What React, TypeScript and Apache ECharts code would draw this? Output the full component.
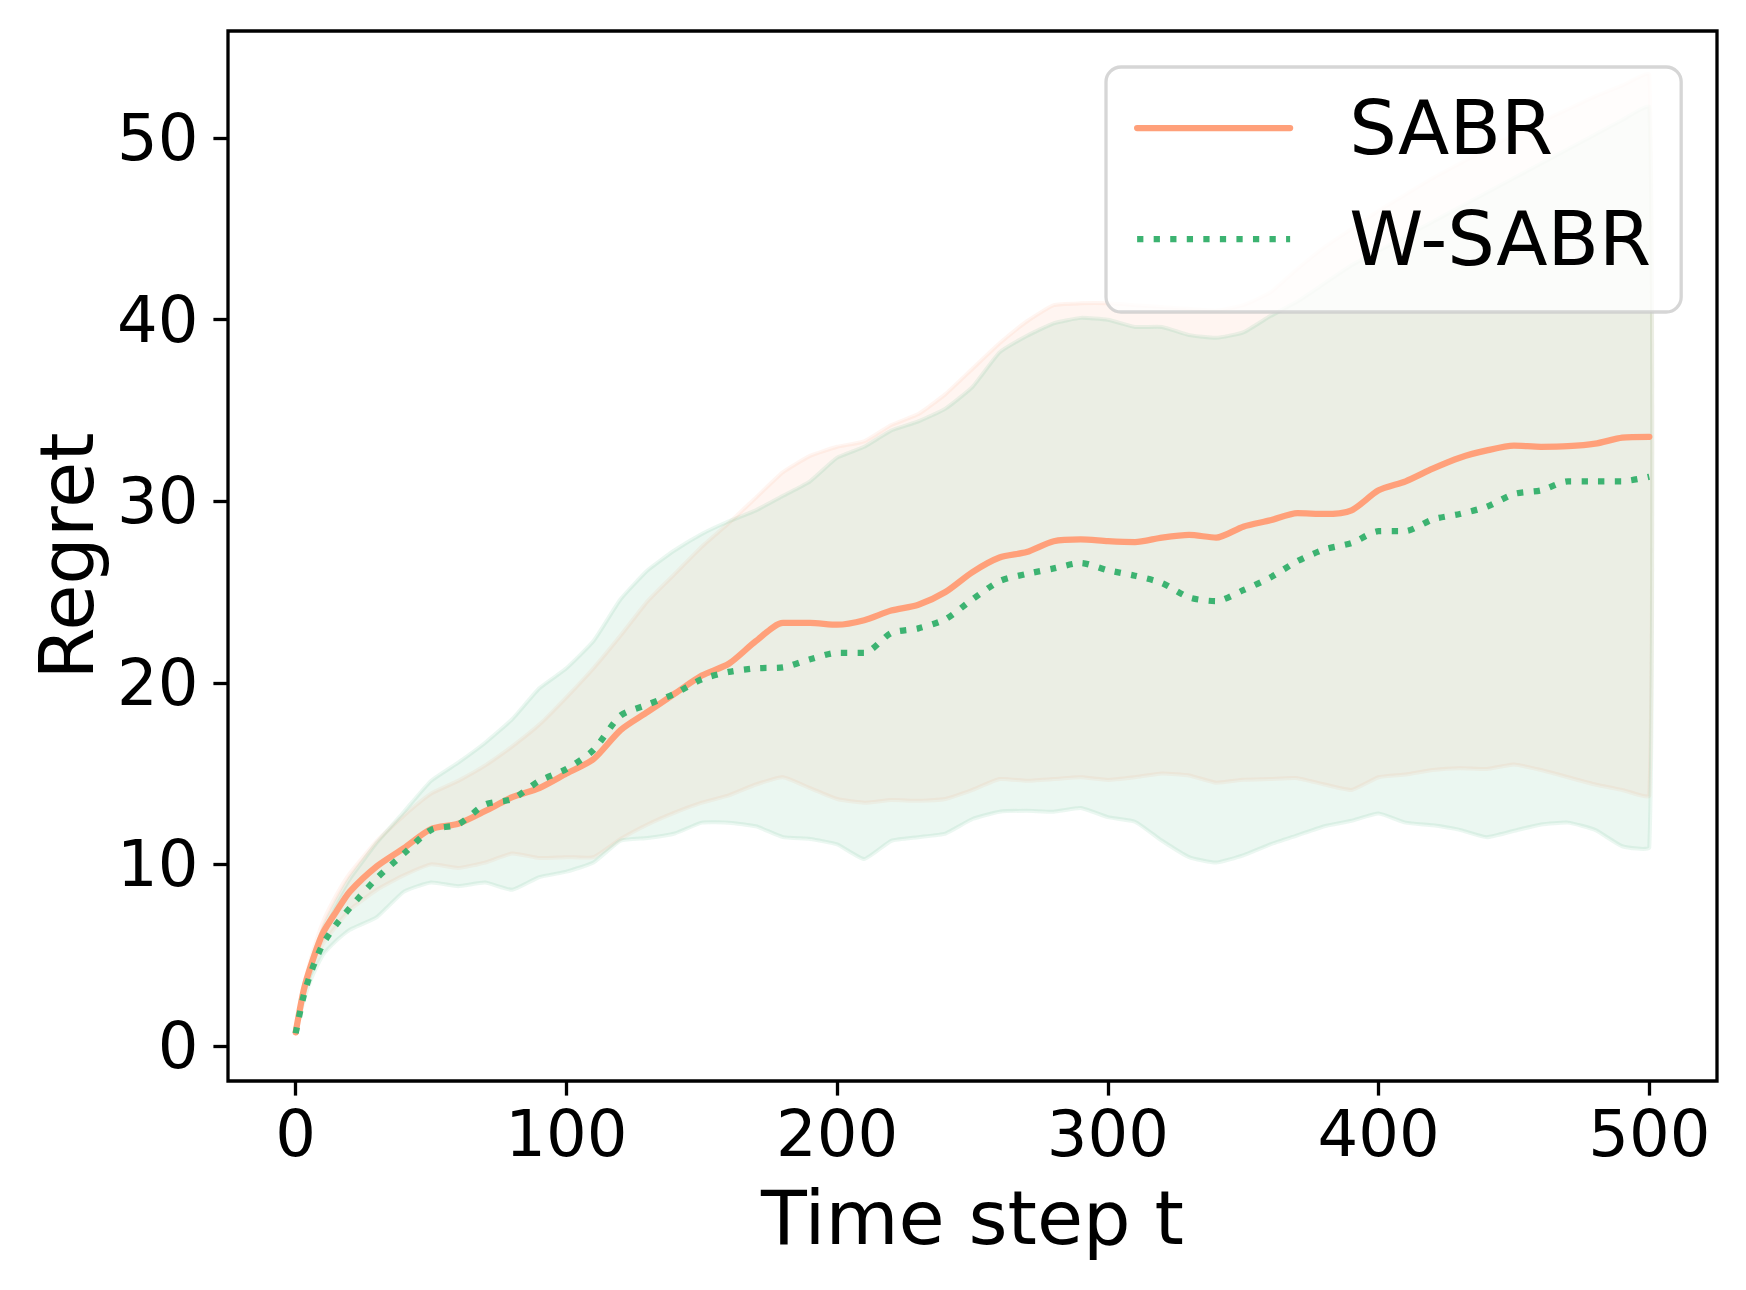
import React, { useEffect, useRef } from "react";
import * as echarts from "echarts";

// ---- data ----
const timeSteps = [
  0, 3, 6, 10, 15, 20, 30, 40, 50, 60, 70, 80, 90, 100, 110, 120, 130, 140, 150, 160,
  170, 180, 190, 200, 210, 220, 230, 240, 250, 260, 270, 280, 290, 300, 310, 320, 330,
  340, 350, 360, 370, 380, 390, 400, 410, 420, 430, 440, 450, 460, 470, 480, 490, 500,
];

const sabrMean = [
  0.75, 3.1, 4.6, 6.2, 7.4, 8.5, 9.9, 10.9, 11.95, 12.24, 12.94, 13.7, 14.2, 15.0, 15.8,
  17.4, 18.4, 19.4, 20.4, 21.05, 22.3, 23.3, 23.3, 23.2, 23.45, 23.98, 24.3, 25.0, 26.1,
  26.9, 27.2, 27.8, 27.9, 27.8, 27.75, 28.0, 28.15, 28.0, 28.6, 28.95, 29.35, 29.3, 29.5,
  30.6, 31.1, 31.8, 32.4, 32.8, 33.06, 33.0, 33.03, 33.17, 33.5, 33.55,
];
const sabrUpper = [
  0.75, 3.3, 5.0, 6.8, 8.3, 9.5, 11.3, 12.7, 13.9, 14.6, 15.45, 16.5, 17.7, 19.2, 20.8,
  22.6, 24.5, 26.0, 27.5, 28.8, 30.2, 31.6, 32.5, 33.0, 33.3, 34.2, 34.8, 35.9, 37.3, 38.7,
  39.9, 40.8, 40.9, 40.9, 40.8, 40.7, 40.6, 40.5, 40.8, 41.5, 42.8, 44.0, 45.0, 46.0, 46.9,
  47.8, 48.6, 49.4, 50.2, 50.9, 51.6, 52.3, 52.9, 53.5,
];
const sabrLower = [
  0.75, 2.9, 4.2, 5.6, 6.6, 7.5, 8.6, 9.4, 10.0, 9.8, 10.1, 10.6, 10.35, 10.4, 10.4, 11.4,
  12.2, 12.85, 13.4, 13.8, 14.4, 14.8, 14.2, 13.6, 13.4, 13.55, 13.5, 13.6, 14.1, 14.7,
  14.6, 14.7, 14.8, 14.65, 14.8, 15.0, 14.9, 14.5, 14.66, 14.7, 14.75, 14.4, 14.1, 14.8,
  14.95, 15.2, 15.3, 15.25, 15.5, 15.2, 14.8, 14.4, 14.1, 13.8,
];

const wsabrMean = [
  0.7, 2.8, 4.2, 5.6, 6.7, 7.6, 9.25, 10.6, 11.9, 12.2, 13.3, 13.6, 14.6, 15.25, 16.3,
  18.2, 18.8, 19.4, 20.2, 20.6, 20.8, 20.85, 21.3, 21.65, 21.65, 22.75, 23.0, 23.5, 24.6,
  25.6, 26.0, 26.3, 26.6, 26.2, 25.9, 25.5, 24.7, 24.5, 25.1, 25.8, 26.7, 27.35, 27.7,
  28.35, 28.36, 29.0, 29.3, 29.7, 30.4, 30.6, 31.1, 31.1, 31.1, 31.35,
];
const wsabrUpper = [
  0.7, 3.1, 4.8, 6.4, 7.9, 9.2, 11.2, 12.9, 14.6, 15.6, 16.7, 18.0, 19.7, 20.8, 22.3,
  24.6, 26.2, 27.3, 28.2, 28.9, 29.5, 30.3, 31.1, 32.4, 33.0, 33.9, 34.4, 35.1, 36.3, 38.2,
  39.1, 39.8, 40.1, 40.0, 39.6, 39.6, 39.15, 39.0, 39.3, 40.2, 41.0, 42.0, 43.0, 43.8,
  44.6, 45.4, 46.2, 47.0, 47.8, 48.6, 49.4, 50.2, 51.0, 51.7,
];
const wsabrLower = [
  0.7, 2.5, 3.8, 5.0, 5.8, 6.4, 7.1, 8.5, 9.0, 8.8, 9.0, 8.6, 9.3, 9.6, 10.1, 11.3,
  11.45, 11.7, 12.3, 12.3, 12.1, 11.5, 11.4, 11.1, 10.3, 11.3, 11.5, 11.7, 12.5, 12.9,
  12.95, 12.9, 13.1, 12.6, 12.35, 11.3, 10.4, 10.1, 10.5, 11.1, 11.6, 12.1, 12.4, 12.8,
  12.3, 12.15, 11.9, 11.5, 11.85, 12.2, 12.3, 11.9, 11.0, 10.95,
];

const xTickValues = [0, 100, 200, 300, 400, 500];
const yTickValues = [0, 10, 20, 30, 40, 50];
const seriesNames = ["SABR", "W-SABR"];

// ---- styles ----
const SABR_COLOR = "#FFA07A";
const WSABR_COLOR = "#3CB371";
const SABR_FILL = "rgba(255,160,122,0.1)";
const WSABR_FILL = "rgba(60,179,113,0.1)";
const FONT = "DejaVu Sans";
const LW = 6.25;

function bandSeries(name: string, lower: number[], upper: number[], fill: string, z: number) {
  return {
    type: "custom",
    name,
    silent: true,
    z,
    clip: true,
    data: [[timeSteps[0], lower[0]]],
    encode: { x: 0, y: 1 },
    renderItem: (_params: any, api: any) => {
      const top = timeSteps.map((t, i) => api.coord([t, upper[i]]));
      const bottom = timeSteps.map((t, i) => api.coord([t, lower[i]])).reverse();
      return {
        type: "polygon",
        shape: { points: top.concat(bottom), smooth: 0.15 },
        style: { fill, stroke: fill, lineWidth: 4, lineJoin: "round" },
      };
    },
  };
}

export default function App() {
  const ref = useRef<HTMLDivElement>(null);

  useEffect(() => {
    document.body.style.margin = "0";
    if (!ref.current) return;
    const chart = echarts.init(ref.current, undefined, { renderer: "svg" });
    const tickFont = { fontSize: 64, fontFamily: FONT, color: "#000" };
    const nameFont = { fontSize: 75, fontFamily: FONT, color: "#000" };
    chart.setOption({
      animation: false,
      backgroundColor: "#ffffff",
      textStyle: { fontFamily: FONT },
      grid: {
        left: 228,
        top: 31,
        width: 1489,
        height: 1050,
        show: true,
        borderColor: "#000",
        borderWidth: 3.3,
        backgroundColor: "transparent",
      },
      xAxis: {
        type: "value",
        min: -25,
        max: 525,
        name: "Time step t",
        nameLocation: "middle",
        nameGap: 99.5,
        nameTextStyle: nameFont,
        axisLine: { show: false, onZero: false },
        splitLine: { show: false },
        axisTick: {
          show: true,
          customValues: xTickValues,
          length: 14.6,
          lineStyle: { color: "#000", width: 3.3 },
        },
        axisLabel: { customValues: xTickValues, margin: 21, ...tickFont },
      },
      yAxis: {
        type: "value",
        min: -1.93,
        max: 55.9,
        name: "Regret",
        nameLocation: "middle",
        nameRotate: 90,
        nameGap: 124,
        nameTextStyle: nameFont,
        axisLine: { show: false, onZero: false },
        splitLine: { show: false },
        axisTick: {
          show: true,
          customValues: yTickValues,
          length: 14.6,
          lineStyle: { color: "#000", width: 3.3 },
        },
        axisLabel: { customValues: yTickValues, margin: 29.5, ...tickFont },
      },
      legend: {
        data: seriesNames,
        orient: "vertical",
        left: 1106,
        top: 67,
        itemWidth: 153,
        itemHeight: 20,
        itemGap: 36,
        padding: [23.5, 30, 35.5, 28],
        backgroundColor: "rgba(255,255,255,0.8)",
        borderColor: "rgba(204,204,204,0.8)",
        borderWidth: 3.3,
        borderRadius: 15,
        selectedMode: false,
        z: 10,
        lineStyle: { width: LW },
        itemStyle: { opacity: 0 },
        textStyle: { ...nameFont, padding: [0, 0, 0, 54] },
      },
      series: [
        bandSeries("SABR band", sabrLower, sabrUpper, SABR_FILL, 1),
        {
          type: "line",
          name: seriesNames[0],
          data: timeSteps.map((t, i) => [t, sabrMean[i]]),
          symbol: "none",
          showSymbol: false,
          smooth: 0.25,
          silent: true,
          z: 3,
          itemStyle: { color: SABR_COLOR },
          lineStyle: { color: SABR_COLOR, width: LW, join: "round", cap: "round" },
        },
        bandSeries("W-SABR band", wsabrLower, wsabrUpper, WSABR_FILL, 1),
        {
          type: "line",
          name: seriesNames[1],
          data: timeSteps.map((t, i) => [t, wsabrMean[i]]),
          symbol: "none",
          showSymbol: false,
          smooth: 0.25,
          silent: true,
          z: 4,
          itemStyle: { color: WSABR_COLOR },
          lineStyle: {
            color: WSABR_COLOR,
            width: LW,
            type: [LW, 10.3],
            cap: "butt",
            join: "round",
          },
        },
      ],
    });
    return () => chart.dispose();
  }, []);

  return (
    <div
      ref={ref}
      style={{ position: "absolute", left: 0, top: 0, width: 1746, height: 1290 }}
    />
  );
}
